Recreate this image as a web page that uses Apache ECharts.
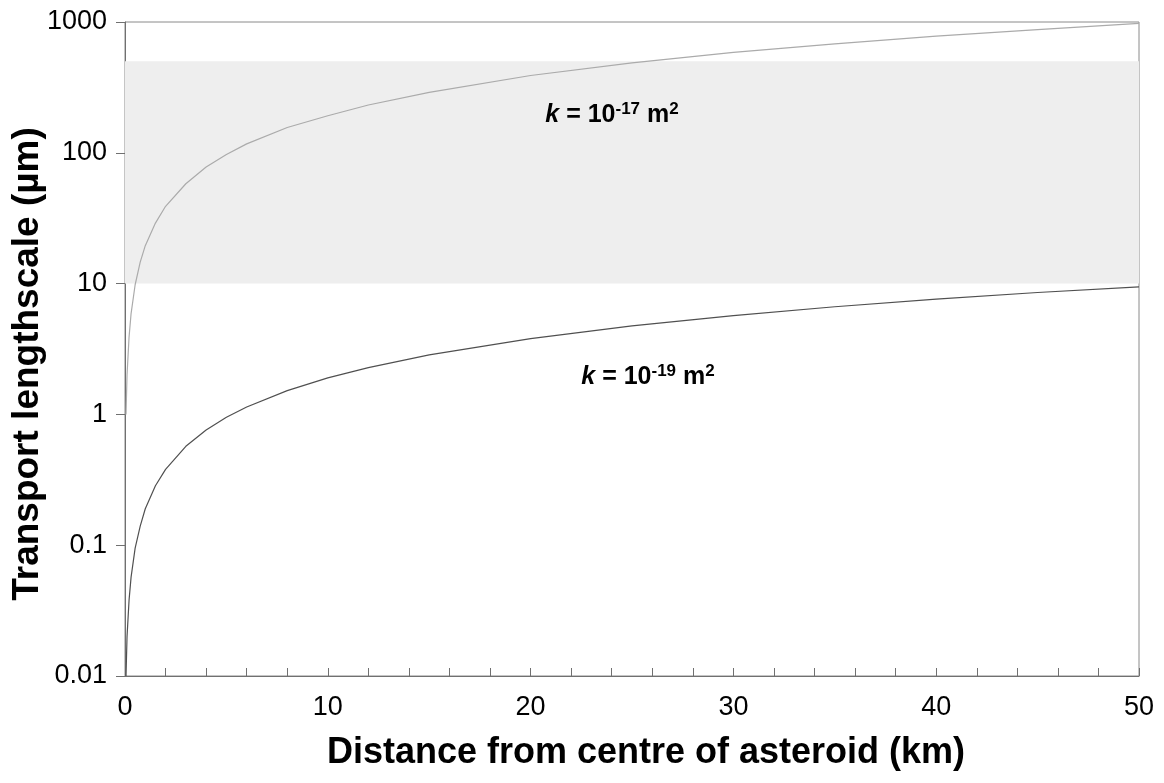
<!DOCTYPE html>
<html>
<head>
<meta charset="utf-8">
<script src="https://cdn.jsdelivr.net/npm/echarts@6/dist/echarts.min.js"></script>
<style>
html,body{margin:0;padding:0;background:#fff;}
#chart{width:1164px;height:783px;}
</style>
</head>
<body>
<div id="chart"></div>
<script>
// Distance from centre of asteroid (km)
const distanceKm = [0.05, 0.1, 0.2, 0.3, 0.5, 0.75, 1, 1.5, 2, 3, 4, 5, 6, 8, 10, 12, 15, 20, 25, 30, 35, 40, 45, 50];
// Transport lengthscale (µm), k = 1e-17 m^2
const upperK17 = [1, 2, 3.9, 5.9, 9.8, 14.6, 19.5, 29, 39, 58, 78, 97, 117, 156, 192, 232, 290, 390, 487, 585, 680, 780, 875, 975];
// Transport lengthscale (µm), k = 1e-19 m^2
const lowerK19 = [0.01, 0.02, 0.038, 0.057, 0.095, 0.14, 0.19, 0.285, 0.38, 0.57, 0.76, 0.95, 1.14, 1.52, 1.9, 2.28, 2.85, 3.8, 4.75, 5.7, 6.65, 7.6, 8.55, 9.45];
// Shaded band limits (µm)
const bandLimits = [10, 500];
const xTickLabels = [0, 10, 20, 30, 40, 50];
const yTickLabels = [0.01, 0.1, 1, 10, 100, 1000];

const chart = echarts.init(document.getElementById('chart'), null, {renderer: 'canvas'});
const font = '"Liberation Sans", Arial, sans-serif';
const pair = (xs, ys) => xs.map((x, i) => [x, ys[i]]);
const kRich = {
  k: {fontFamily: font, fontSize: 25, fontWeight: 'bold', fontStyle: 'italic', fill: '#000'},
  n: {fontFamily: font, fontSize: 25, fontWeight: 'bold', fill: '#000'},
  s: {fontFamily: font, fontSize: 17, fontWeight: 'bold', fill: '#000', verticalAlign: 'top', padding: [0, 0, 12, 0]}
};

chart.setOption({
  animation: false,
  backgroundColor: '#fff',
  grid: {left: 125, right: 25, top: 22, bottom: 107, show: true, borderColor: '#8a8a8a', borderWidth: 1, backgroundColor: 'transparent'},
  xAxis: {
    type: 'value', min: 0, max: 50, interval: 2,
    axisLine: {lineStyle: {color: '#707070', width: 1}},
    axisTick: {inside: true, length: 8, lineStyle: {color: '#707070'}},
    splitLine: {show: false},
    axisLabel: {
      color: '#000', fontFamily: font, fontSize: 27, margin: 18,
      formatter: v => xTickLabels.includes(v) ? String(v) : ''
    }
  },
  yAxis: {
    type: 'log', logBase: 10, min: 0.01, max: 1000,
    axisLine: {show: true, lineStyle: {color: '#707070', width: 1}},
    axisTick: {show: true, inside: false, length: 9, lineStyle: {color: '#707070'}},
    splitLine: {show: false},
    minorTick: {show: false},
    axisLabel: {
      color: '#000', fontFamily: font, fontSize: 27, margin: 18,
      formatter: v => {
        const m = yTickLabels.find(t => Math.abs(t - v) / t < 1e-6);
        return m !== undefined ? String(m) : '';
      }
    }
  },
  series: [
    {
      type: 'line', name: 'k=1e-17', data: pair(distanceKm, upperK17),
      showSymbol: false, lineStyle: {color: '#ababab', width: 1.2}, z: 3,
      markArea: {
        silent: true,
        itemStyle: {color: '#eeeeee'},
        data: [[{yAxis: bandLimits[0]}, {yAxis: bandLimits[1]}]]
      }
    },
    {
      type: 'line', name: 'k=1e-19', data: pair(distanceKm, lowerK19),
      showSymbol: false, lineStyle: {color: '#505050', width: 1.2}, z: 4
    }
  ],
  graphic: [
    {
      type: 'text', x: 646, y: 753, z: 100,
      style: {text: 'Distance from centre of asteroid (km)', fontFamily: font, fontSize: 36, fontWeight: 'bold', fill: '#000', align: 'center', verticalAlign: 'middle'}
    },
    {
      type: 'text', x: 28, y: 364, rotation: Math.PI / 2, z: 100,
      style: {text: 'Transport lengthscale (µm)', fontFamily: font, fontSize: 37, fontWeight: 'bold', fill: '#000', align: 'center', verticalAlign: 'middle'}
    },
    {
      type: 'text', x: 612, y: 115, z: 100,
      style: {text: '{k|k}{n| = 10}{s|-17}{n| m}{s|2}', align: 'center', verticalAlign: 'middle', rich: kRich}
    },
    {
      type: 'text', x: 648, y: 377, z: 100,
      style: {text: '{k|k}{n| = 10}{s|-19}{n| m}{s|2}', align: 'center', verticalAlign: 'middle', rich: kRich}
    }
  ]
});
</script>
</body>
</html>
